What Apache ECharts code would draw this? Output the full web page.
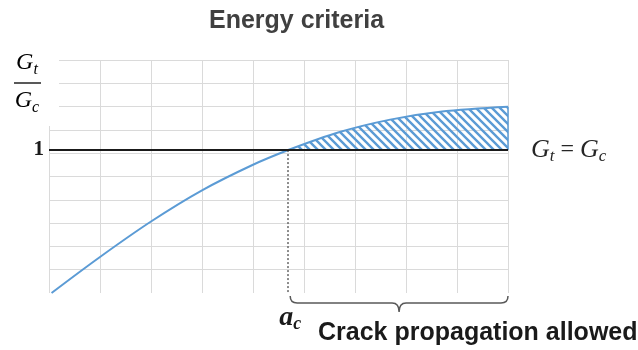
<!DOCTYPE html>
<html>
<head>
<meta charset="utf-8">
<script src="https://cdn.jsdelivr.net/npm/echarts@6/dist/echarts.min.js"></script>
<style>
  html, body { margin: 0; padding: 0; background: #ffffff; }
  #chart { width: 638px; height: 350px; }
</style>
</head>
<body>
<div id="chart"></div>
<script>
// Crack length a, measured in grid divisions
const crackLength = [0.05, 1, 2, 3, 4, 4.69, 5.7, 6.69, 7.67, 9];
// Energy release ratio Gt / Gc at each crack length
const energyRatio = [0, 0.252, 0.5, 0.718, 0.897, 1.0, 1.126, 1.213, 1.268, 1.303];
// Critical crack length a_c and the threshold Gt = Gc
const criticalLength = 4.69;
const criticalRatio = 1;
// Grid divisions
const xTicks = [0, 9];
const yTicks = [0, 10];

const blue = '#5b9bd5';
const serif = '"Liberation Serif", "DejaVu Serif", serif';
const sans = '"Liberation Sans", Arial, sans-serif';

// diagonal hatch used to fill the region where Gt > Gc
function hatchCanvas() {
  const c = document.createElement('canvas');
  c.width = 8; c.height = 8;
  const g = c.getContext('2d');
  g.strokeStyle = blue;
  g.lineWidth = 2.4;
  g.beginPath();
  g.moveTo(-2, -2); g.lineTo(10, 10);
  g.moveTo(-2, 6); g.lineTo(2, 10);
  g.moveTo(6, -2); g.lineTo(10, 2);
  g.stroke();
  return c;
}

const splitAt = crackLength.indexOf(criticalLength);
const pairs = crackLength.map((x, i) => [x, energyRatio[i]]);
const belowPart = pairs.slice(0, splitAt + 1);
const abovePart = pairs.slice(splitAt);
const lastX = crackLength[crackLength.length - 1];
const lastY = energyRatio[energyRatio.length - 1];

const gridTop = 60, gridBottom = 293;
// ratio axis top chosen so that Gt/Gc = 1 lands on the threshold line
const ratioMax = 1.63;

const chart = echarts.init(document.getElementById('chart'), null, { renderer: 'canvas' });

function richMath(big, small) {
  return {
    g: { fontFamily: serif, fontStyle: 'italic', fontSize: big, color: '#262626', lineHeight: 30, verticalAlign: 'middle' },
    s: { fontFamily: serif, fontStyle: 'italic', fontSize: small, color: '#262626', lineHeight: 30, verticalAlign: 'bottom' },
    e: { fontFamily: serif, fontSize: big - 2, color: '#262626', lineHeight: 30, verticalAlign: 'middle' }
  };
}

chart.setOption({
  animation: false,
  backgroundColor: '#ffffff',
  title: {
    text: 'Energy criteria',
    left: 209, top: 9, padding: 0,
    textStyle: { fontFamily: sans, fontWeight: 'bold', fontSize: 25, color: '#404040' }
  },
  grid: { left: 49, right: 638 - 508, top: gridTop, bottom: 350 - gridBottom },
  xAxis: {
    type: 'value', min: xTicks[0], max: xTicks[1], interval: 1,
    axisLine: { show: false }, axisTick: { show: false }, axisLabel: { show: false },
    splitLine: { show: true, lineStyle: { color: '#dadada', width: 1 } }
  },
  yAxis: [
    {
      type: 'value', min: yTicks[0], max: yTicks[1], interval: 1,
      axisLine: { show: false }, axisTick: { show: false }, axisLabel: { show: false },
      splitLine: { show: true, lineStyle: { color: ['rgba(0,0,0,0)', '#dadada', '#dadada', '#dadada', '#dadada', '#dadada', '#dadada', '#dadada', '#dadada', '#dadada', '#dadada'], width: 1 } }
    },
    {
      type: 'value', min: 0, max: ratioMax, show: false,
      splitLine: { show: false }
    }
  ],
  graphic: [
    { type: 'rect', shape: { x: 0, y: 50, width: 59, height: 76 }, style: { fill: '#ffffff' }, z: 1 },
    { type: 'text', x: 27, y: 63, z: 2, style: { text: '{g|G}{s|t}', rich: richMath(24, 16), align: 'center', verticalAlign: 'middle' } },
    { type: 'line', z: 2, shape: { x1: 14, y1: 83, x2: 41, y2: 83 }, style: { stroke: '#595959', lineWidth: 2 } },
    { type: 'text', x: 27, y: 101, z: 2, style: { text: '{g|G}{s|c}', rich: richMath(24, 16), align: 'center', verticalAlign: 'middle' } },
    { type: 'text', x: 318, y: 333, z: 2, style: { text: 'Crack propagation allowed', fontFamily: sans, fontWeight: 'bold', fontSize: 25, fill: '#1a1a1a', align: 'left', verticalAlign: 'middle' } }
  ],
  series: [
    {
      name: 'below',
      type: 'line', yAxisIndex: 1,
      data: belowPart,
      smooth: 0.35,
      symbol: 'none',
      lineStyle: { color: blue, width: 2 },
      z: 4,
      markLine: {
        silent: true, symbol: 'none',
        lineStyle: { color: '#666666', width: 1.5, type: [2, 2] },
        label: { show: false },
        data: [[{ coord: [criticalLength, criticalRatio] }, { coord: [criticalLength, 0] }]]
      }
    },
    {
      name: 'above',
      type: 'line', yAxisIndex: 1,
      data: abovePart,
      smooth: 0.35,
      symbol: 'none',
      lineStyle: { color: blue, width: 2 },
      areaStyle: { origin: criticalRatio, color: { image: hatchCanvas(), repeat: 'repeat' }, opacity: 1 },
      z: 4,
      markLine: {
        silent: true, symbol: 'none',
        lineStyle: { color: blue, width: 1.5, type: 'solid' },
        label: { show: false },
        data: [[{ coord: [lastX, criticalRatio] }, { coord: [lastX, lastY] }]]
      }
    },
    {
      name: 'threshold',
      type: 'line', yAxisIndex: 1,
      data: [],
      z: 6,
      markLine: {
        silent: true, symbol: 'none',
        lineStyle: { color: '#1a1a1a', width: 2, type: 'solid' },
        data: [
          [
            { coord: [0, criticalRatio], label: { show: true, position: 'start', distance: 5, formatter: '1', fontFamily: serif, fontWeight: 'bold', fontSize: 21, color: '#1a1a1a' } },
            { coord: [lastX, criticalRatio] }
          ],
          [
            { coord: [0, criticalRatio], label: { show: true, position: 'end', distance: 23, formatter: '{g|G}{s|t}{e| = }{g|G}{s|c}', rich: richMath(26, 17) } },
            { coord: [lastX, criticalRatio] }
          ]
        ]
      }
    },
    {
      name: 'brace',
      type: 'custom', yAxisIndex: 1,
      data: [[criticalLength, 0]],
      z: 5,
      renderItem: function (params, api) {
        const p0 = api.coord([criticalLength, 0]);
        const p1 = api.coord([lastX, 0]);
        const x0 = p0[0] + 2, x1 = p1[0], y0 = p0[1] + 3;
        const xm = (x0 + x1) / 2;
        const r = 7;
        const path = [
          'M', x0, y0,
          'Q', x0, y0 + r, x0 + r, y0 + r,
          'L', xm - r, y0 + r,
          'Q', xm, y0 + r, xm, y0 + r + 9,
          'Q', xm, y0 + r, xm + r, y0 + r,
          'L', x1 - r, y0 + r,
          'Q', x1, y0 + r, x1, y0
        ].join(' ');
        return {
          type: 'group',
          children: [
            { type: 'path', shape: { pathData: path }, style: { stroke: '#595959', lineWidth: 1.5, fill: 'none' } },
            {
              type: 'text', x: p0[0] + 2, y: p0[1] + 25,
              style: {
                text: '{a|a}{c|c}', align: 'center', verticalAlign: 'middle',
                rich: {
                  a: { fontFamily: serif, fontStyle: 'italic', fontWeight: 'bold', fontSize: 28, fill: '#1a1a1a', lineHeight: 30, verticalAlign: 'middle' },
                  c: { fontFamily: serif, fontStyle: 'italic', fontWeight: 'bold', fontSize: 18, fill: '#1a1a1a', lineHeight: 30, verticalAlign: 'bottom' }
                }
              }
            }
          ]
        };
      }
    }
  ]
});
</script>
</body>
</html>
